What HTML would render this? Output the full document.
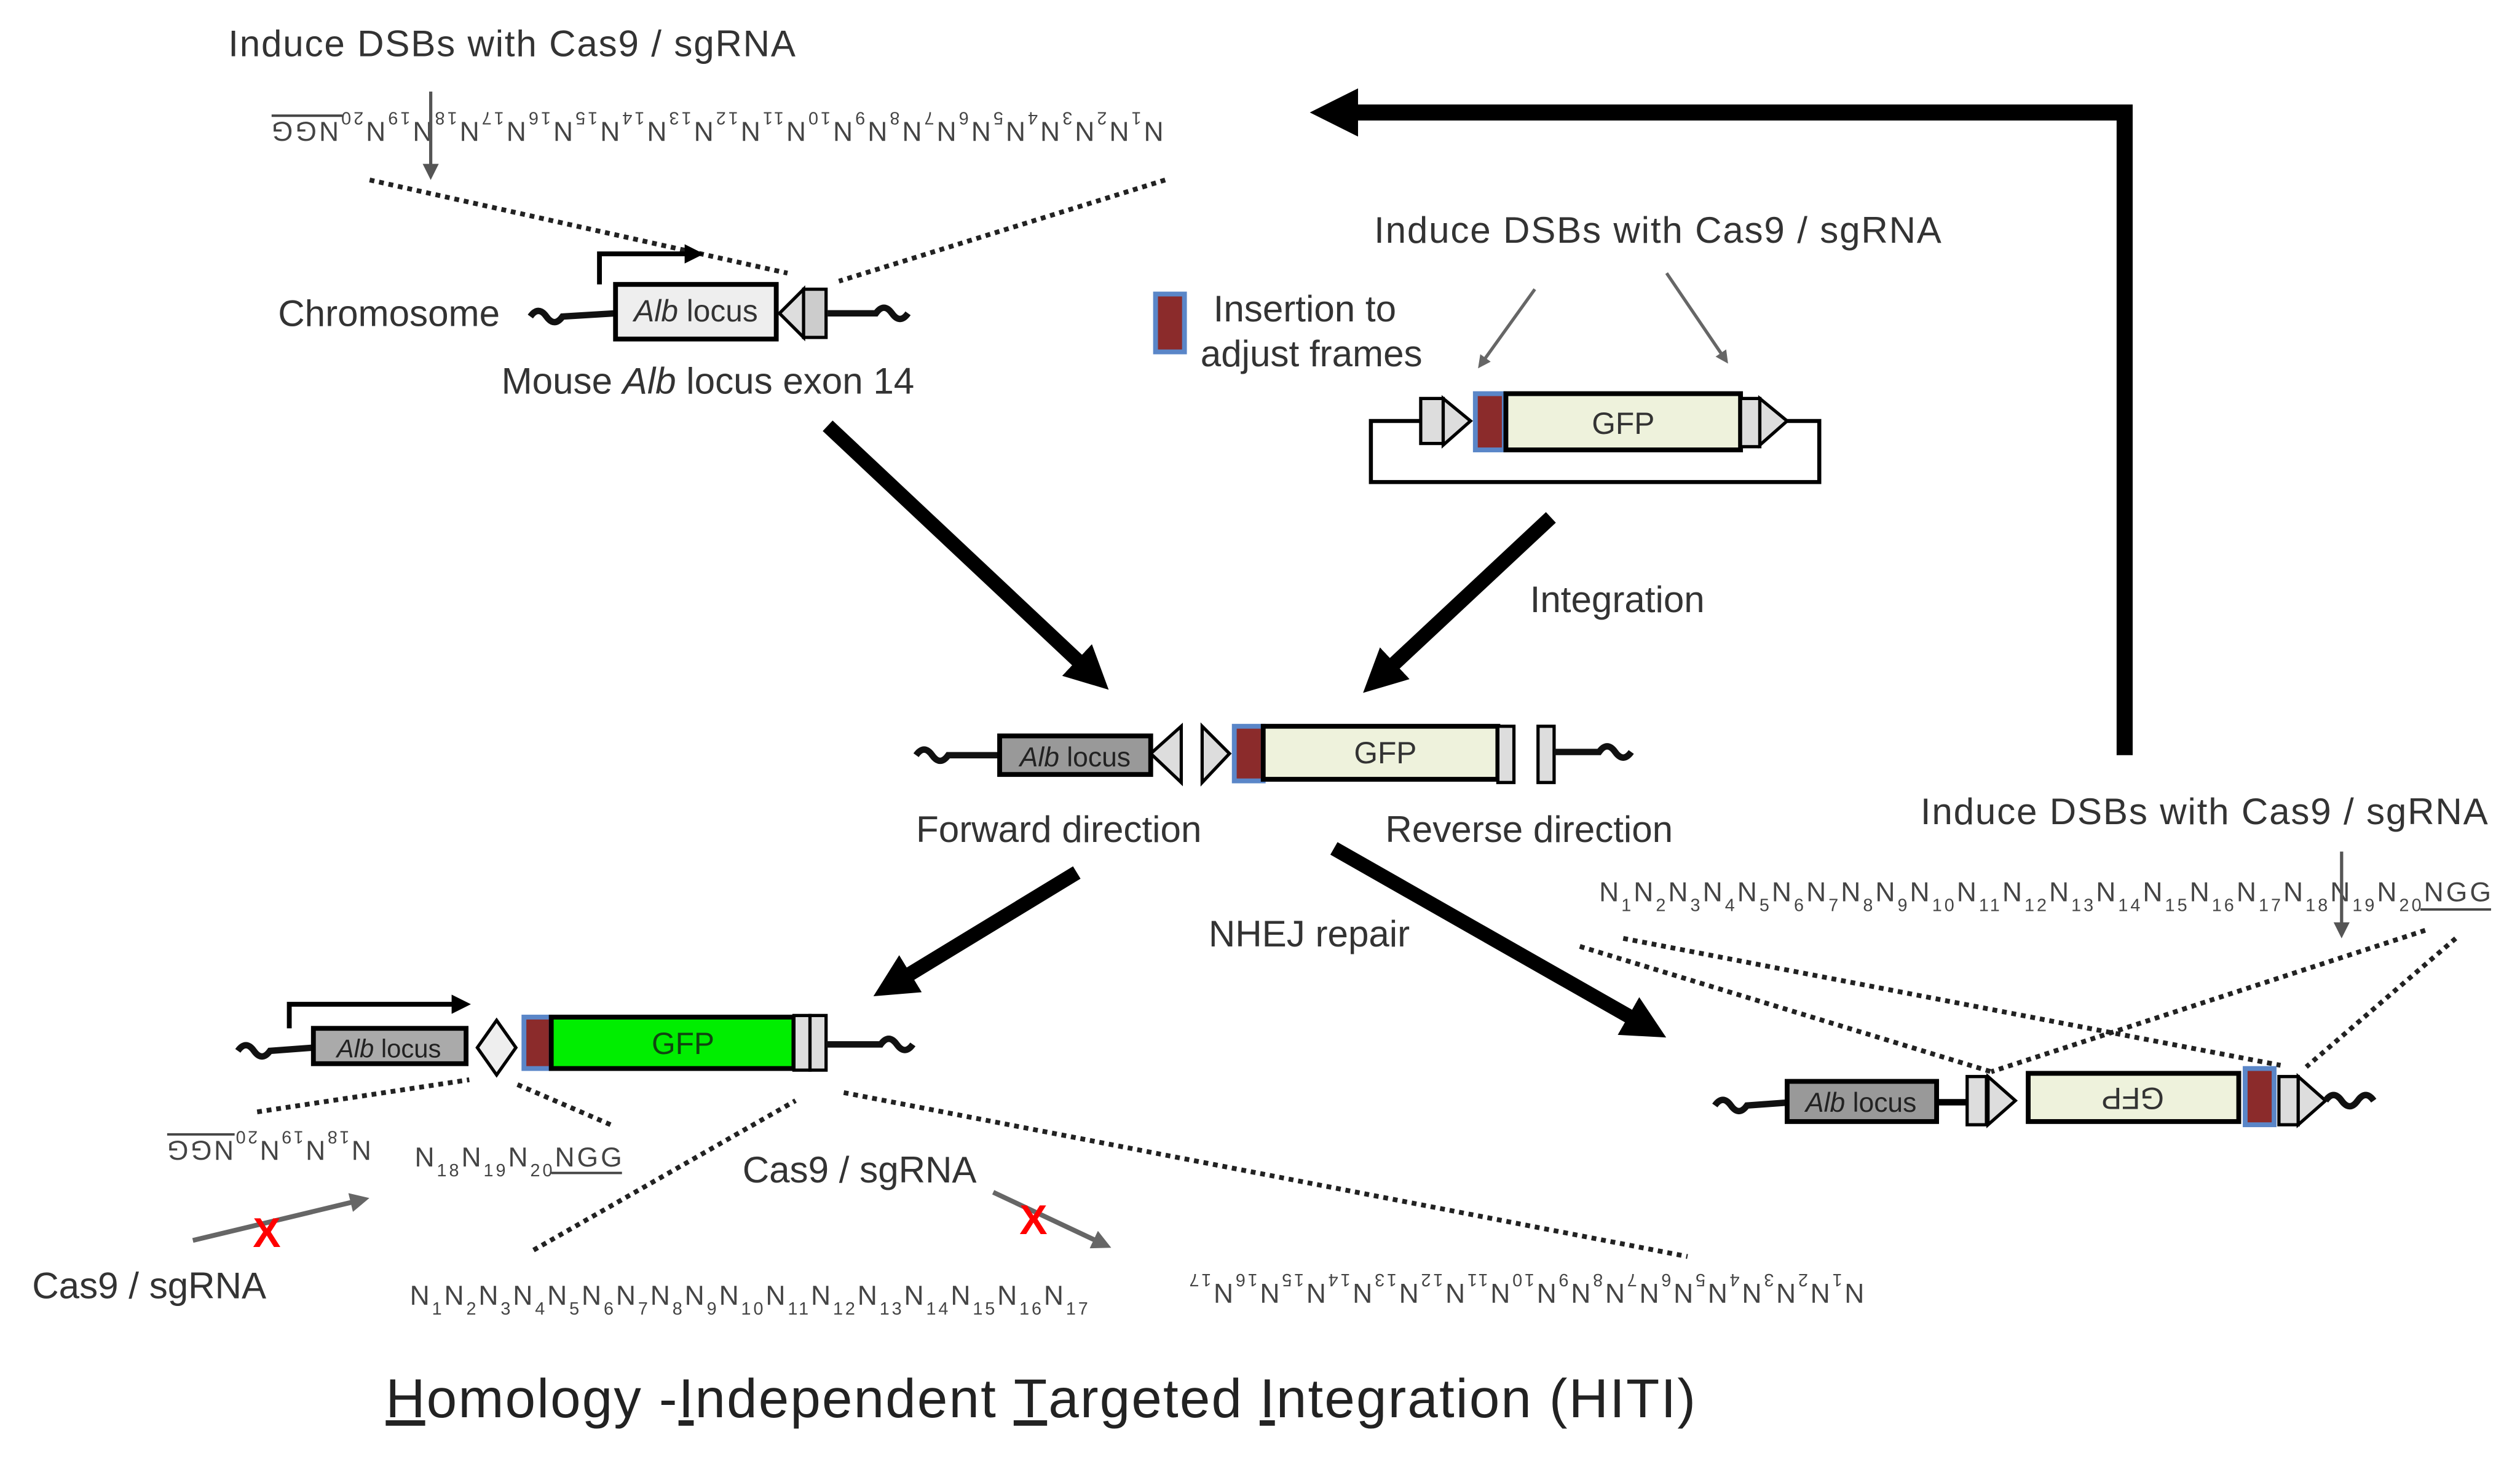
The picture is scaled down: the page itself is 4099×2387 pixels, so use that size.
<!DOCTYPE html>
<html><head><meta charset="utf-8"><style>
html,body{margin:0;padding:0;background:#fff;}
svg{display:block;}
text{font-family:"Liberation Sans",sans-serif;}
.t{font-size:23px;fill:#333;}
.q{font-size:17px;fill:#444;}
.s{font-size:11px;baseline-shift:sub;}
.dot{stroke:#222;stroke-width:3;stroke-dasharray:3 3;fill:none;}
.wv{stroke:#111;stroke-width:4;fill:none;}
</style></head><body>
<svg width="4099" height="2387" viewBox="0 0 1568 913" preserveAspectRatio="none" xmlns="http://www.w3.org/2000/svg">
<defs>
<marker id="ah" markerWidth="3" markerHeight="3" refX="1.5" refY="1.5" orient="auto" markerUnits="strokeWidth"><path d="M0,0 L3,1.5 L0,3 z" fill="#000"/></marker>
<marker id="ah2" markerWidth="4" markerHeight="4" refX="2" refY="2" orient="auto" markerUnits="strokeWidth"><path d="M0,0 L4,2 L0,4 z" fill="#000"/></marker>
<marker id="gh" markerWidth="5" markerHeight="5" refX="3" refY="2.5" orient="auto" markerUnits="strokeWidth"><path d="M0,0 L5,2.5 L0,5 z" fill="#555"/></marker>
<marker id="gh2" markerWidth="4" markerHeight="4" refX="2" refY="2" orient="auto" markerUnits="strokeWidth"><path d="M0,0 L4,2 L0,4 z" fill="#666"/></marker>
</defs>

<!-- Top-left -->
<text class="t" x="142" y="35" textLength="353">Induce DSBs with Cas9 / sgRNA</text>
<g transform="rotate(180 447 80)">
<text class="q" x="170" y="84" textLength="555">N<tspan class="s">1</tspan>N<tspan class="s">2</tspan>N<tspan class="s">3</tspan>N<tspan class="s">4</tspan>N<tspan class="s">5</tspan>N<tspan class="s">6</tspan>N<tspan class="s">7</tspan>N<tspan class="s">8</tspan>N<tspan class="s">9</tspan>N<tspan class="s">10</tspan>N<tspan class="s">11</tspan>N<tspan class="s">12</tspan>N<tspan class="s">13</tspan>N<tspan class="s">14</tspan>N<tspan class="s">15</tspan>N<tspan class="s">16</tspan>N<tspan class="s">17</tspan>N<tspan class="s">18</tspan>N<tspan class="s">19</tspan>N<tspan class="s">20</tspan>NGG</text>
<line x1="681" y1="88" x2="725" y2="88" stroke="#444" stroke-width="1.5"/>
</g>
<line x1="268" y1="57" x2="268" y2="108" stroke="#555" stroke-width="2" marker-end="url(#gh)"/>
<line class="dot" x1="230" y1="112" x2="490" y2="170"/>
<line class="dot" x1="725" y1="112" x2="522" y2="175"/>

<text class="t" x="173" y="203">Chromosome</text>
<path class="wv" d="M330,197 q5,-7 10,0 t10,0 L383,195"/>
<path class="wv" d="M515,195 L545,195 q5,-7 10,0 t10,0"/>
<rect x="383" y="177" width="100" height="34" fill="#eee" stroke="#000" stroke-width="3"/>
<text x="433" y="200" font-size="19" text-anchor="middle" fill="#333"><tspan font-style="italic">Alb</tspan> locus</text>
<path d="M500,180 L485,195 L500,210 z" fill="#ddd" stroke="#000" stroke-width="2"/>
<rect x="500" y="180" width="14" height="30" fill="#ccc" stroke="#000" stroke-width="2"/>
<path d="M373,177 L373,158 L432,158" stroke="#000" stroke-width="3" fill="none" marker-end="url(#ah2)"/>
<text class="t" x="312" y="245">Mouse <tspan font-style="italic">Alb</tspan> locus exon 14</text>

<!-- Top-right plasmid -->
<text class="t" x="855" y="151" textLength="353">Induce DSBs with Cas9 / sgRNA</text>
<line x1="955" y1="180" x2="922" y2="226" stroke="#666" stroke-width="2" marker-end="url(#gh2)"/>
<line x1="1037" y1="170" x2="1073" y2="223" stroke="#666" stroke-width="2" marker-end="url(#gh2)"/>
<rect x="719" y="183" width="18" height="36" fill="#8b2b2b" stroke="#5a86c8" stroke-width="3"/>
<text class="t" x="755" y="200">Insertion to</text>
<text class="t" x="747" y="228">adjust frames</text>
<path d="M884,262 L853,262 L853,300 L1132,300 L1132,262 L1112,262" stroke="#000" stroke-width="2.5" fill="none"/>
<rect x="884" y="248" width="14" height="28" fill="#ddd" stroke="#000" stroke-width="2"/>
<path d="M898,248 L915,262 L898,277 z" fill="#ddd" stroke="#000" stroke-width="2"/>
<rect x="918" y="245" width="18" height="35" fill="#8b2b2b" stroke="#5a86c8" stroke-width="3"/>
<rect x="937" y="245" width="146" height="35" fill="#eef2dc" stroke="#000" stroke-width="3"/>
<text x="1010" y="270" font-size="19" text-anchor="middle" fill="#333">GFP</text>
<rect x="1083" y="248" width="12" height="30" fill="#ddd" stroke="#000" stroke-width="2"/>
<path d="M1095,248 L1112,262 L1095,277 z" fill="#ddd" stroke="#000" stroke-width="2"/>

<!-- Big arrows -->
<line x1="515" y1="265" x2="680" y2="420" stroke="#000" stroke-width="9" marker-end="url(#ah)"/>
<line x1="965" y1="322" x2="858" y2="422" stroke="#000" stroke-width="9" marker-end="url(#ah)"/>
<text class="t" x="952" y="381">Integration</text>
<path d="M1322,470 L1322,70 L830,70" stroke="#000" stroke-width="10" fill="none" marker-end="url(#ah)"/>

<!-- Middle construct -->
<path class="wv" d="M570,470 q5,-7 10,0 t10,0 L622,470"/>
<rect x="622" y="458" width="94" height="24" fill="#999" stroke="#000" stroke-width="3"/>
<text x="669" y="477" font-size="17" text-anchor="middle" fill="#222"><tspan font-style="italic">Alb</tspan> locus</text>
<path d="M735,452 L716,469 L735,487 z" fill="#ddd" stroke="#000" stroke-width="2"/>
<path d="M748,452 L765,469 L748,487 z" fill="#ddd" stroke="#000" stroke-width="2"/>
<rect x="768" y="452" width="18" height="34" fill="#8b2b2b" stroke="#5a86c8" stroke-width="3"/>
<rect x="786" y="452" width="146" height="33" fill="#eef2dc" stroke="#000" stroke-width="3"/>
<text x="862" y="475" font-size="19" text-anchor="middle" fill="#333">GFP</text>
<rect x="932" y="452" width="10" height="35" fill="#ddd" stroke="#000" stroke-width="2"/>
<rect x="957" y="452" width="10" height="35" fill="#ddd" stroke="#000" stroke-width="2"/>
<path class="wv" d="M967,468 L995,468 q5,-7 10,0 t10,0"/>
<text class="t" x="570" y="524">Forward direction</text>
<text class="t" x="862" y="524">Reverse direction</text>

<line x1="670" y1="543" x2="555" y2="613" stroke="#000" stroke-width="9" marker-end="url(#ah)"/>
<line x1="830" y1="528" x2="1025" y2="639" stroke="#000" stroke-width="9" marker-end="url(#ah)"/>
<text class="t" x="752" y="589">NHEJ repair</text>

<!-- Bottom-left construct -->
<path class="wv" d="M148,654 q5,-7 10,0 t10,0 L195,652"/>
<rect x="195" y="640" width="95" height="22" fill="#aaa" stroke="#000" stroke-width="3"/>
<text x="242" y="658" font-size="16" text-anchor="middle" fill="#222"><tspan font-style="italic">Alb</tspan> locus</text>
<path d="M309,635 L297,652 L309,669 L321,652 z" fill="#eee" stroke="#000" stroke-width="2"/>
<rect x="326" y="633" width="17" height="32" fill="#8b2b2b" stroke="#5a86c8" stroke-width="3"/>
<rect x="343" y="633" width="151" height="32" fill="#00ee00" stroke="#000" stroke-width="3"/>
<text x="425" y="656" font-size="19" text-anchor="middle" fill="#114411">GFP</text>
<rect x="494" y="632" width="10" height="34" fill="#ddd" stroke="#000" stroke-width="2"/>
<rect x="504" y="632" width="10" height="34" fill="#ddd" stroke="#000" stroke-width="2"/>
<path class="wv" d="M514,650 L548,650 q5,-7 10,0 t10,0"/>
<path d="M180,640 L180,625 L287,625" stroke="#000" stroke-width="3" fill="none" marker-end="url(#ah2)"/>
<line class="dot" x1="160" y1="692" x2="292" y2="672"/>
<line class="dot" x1="322" y1="675" x2="380" y2="700"/>
<line class="dot" x1="332" y1="778" x2="495" y2="685"/>
<line class="dot" x1="525" y1="680" x2="1050" y2="782"/>
<g transform="rotate(180 168 716)">
<text class="q" x="105" y="722" textLength="127">N<tspan class="s">18</tspan>N<tspan class="s">19</tspan>N<tspan class="s">20</tspan>NGG</text>
<line x1="190" y1="726" x2="232" y2="726" stroke="#444" stroke-width="1.5"/>
</g>
<text class="q" x="258" y="726" textLength="129">N<tspan class="s">18</tspan>N<tspan class="s">19</tspan>N<tspan class="s">20</tspan>NGG</text>
<line x1="343" y1="730" x2="387" y2="730" stroke="#444" stroke-width="1.5"/>
<line x1="120" y1="772" x2="224" y2="747" stroke="#666" stroke-width="3" marker-end="url(#gh2)"/>
<text x="166" y="776" font-size="26" fill="#f00" text-anchor="middle" font-weight="bold">X</text>
<text class="t" x="20" y="808">Cas9 / sgRNA</text>
<text class="t" x="462" y="736">Cas9 / sgRNA</text>
<line x1="618" y1="742" x2="686" y2="774" stroke="#666" stroke-width="3" marker-end="url(#gh2)"/>
<text x="643" y="768" font-size="26" fill="#f00" text-anchor="middle" font-weight="bold">X</text>
<text class="q" x="255" y="812" textLength="422">N<tspan class="s">1</tspan>N<tspan class="s">2</tspan>N<tspan class="s">3</tspan>N<tspan class="s">4</tspan>N<tspan class="s">5</tspan>N<tspan class="s">6</tspan>N<tspan class="s">7</tspan>N<tspan class="s">8</tspan>N<tspan class="s">9</tspan>N<tspan class="s">10</tspan>N<tspan class="s">11</tspan>N<tspan class="s">12</tspan>N<tspan class="s">13</tspan>N<tspan class="s">14</tspan>N<tspan class="s">15</tspan>N<tspan class="s">16</tspan>N<tspan class="s">17</tspan></text>
<g transform="rotate(180 950 804)">
<text class="q" x="740" y="809" textLength="420">N<tspan class="s">1</tspan>N<tspan class="s">2</tspan>N<tspan class="s">3</tspan>N<tspan class="s">4</tspan>N<tspan class="s">5</tspan>N<tspan class="s">6</tspan>N<tspan class="s">7</tspan>N<tspan class="s">8</tspan>N<tspan class="s">9</tspan>N<tspan class="s">10</tspan>N<tspan class="s">11</tspan>N<tspan class="s">12</tspan>N<tspan class="s">13</tspan>N<tspan class="s">14</tspan>N<tspan class="s">15</tspan>N<tspan class="s">16</tspan>N<tspan class="s">17</tspan></text>
</g>

<!-- Bottom-right -->
<text class="t" x="1195" y="513" textLength="353">Induce DSBs with Cas9 / sgRNA</text>
<text class="q" x="995" y="561" textLength="555">N<tspan class="s">1</tspan>N<tspan class="s">2</tspan>N<tspan class="s">3</tspan>N<tspan class="s">4</tspan>N<tspan class="s">5</tspan>N<tspan class="s">6</tspan>N<tspan class="s">7</tspan>N<tspan class="s">8</tspan>N<tspan class="s">9</tspan>N<tspan class="s">10</tspan>N<tspan class="s">11</tspan>N<tspan class="s">12</tspan>N<tspan class="s">13</tspan>N<tspan class="s">14</tspan>N<tspan class="s">15</tspan>N<tspan class="s">16</tspan>N<tspan class="s">17</tspan>N<tspan class="s">18</tspan>N<tspan class="s">19</tspan>N<tspan class="s">20</tspan>NGG</text>
<line x1="1506" y1="566" x2="1550" y2="566" stroke="#444" stroke-width="1.5"/>
<line x1="1457" y1="530" x2="1457" y2="580" stroke="#555" stroke-width="2" marker-end="url(#gh)"/>
<line class="dot" x1="983" y1="589" x2="1239" y2="667"/>
<line class="dot" x1="1010" y1="584" x2="1419" y2="663"/>
<line class="dot" x1="1509" y1="579" x2="1239" y2="667"/>
<line class="dot" x1="1528" y1="584" x2="1435" y2="664"/>
<path class="wv" d="M1067,688 q5,-7 10,0 t10,0 L1115,686"/>
<rect x="1112" y="673" width="93" height="25" fill="#999" stroke="#000" stroke-width="3"/>
<text x="1158" y="692" font-size="17" text-anchor="middle" fill="#222"><tspan font-style="italic">Alb</tspan> locus</text>
<line x1="1205" y1="686" x2="1225" y2="686" stroke="#000" stroke-width="4"/>
<rect x="1224" y="670" width="12" height="30" fill="#ddd" stroke="#000" stroke-width="2"/>
<path d="M1237,670 L1254,685 L1237,700 z" fill="#ddd" stroke="#000" stroke-width="2"/>
<rect x="1262" y="668" width="131" height="30" fill="#eef2dc" stroke="#000" stroke-width="3"/>
<text x="1327" y="689" font-size="19" text-anchor="middle" fill="#333" transform="rotate(180 1327 683)">GFP</text>
<rect x="1397" y="665" width="18" height="35" fill="#8b2b2b" stroke="#5a86c8" stroke-width="3"/>
<rect x="1418" y="670" width="12" height="30" fill="#ddd" stroke="#000" stroke-width="2"/>
<path d="M1430,670 L1447,685 L1430,700 z" fill="#ddd" stroke="#000" stroke-width="2"/>
<path class="wv" d="M1447,685 q5,-7 10,0 t10,0 t10,0"/>

<!-- Title -->
<text x="240" y="882" font-size="34" fill="#222" textLength="815"><tspan text-decoration="underline">H</tspan>omology -<tspan text-decoration="underline">I</tspan>ndependent <tspan text-decoration="underline">T</tspan>argeted <tspan text-decoration="underline">I</tspan>ntegration (HITI)</text>
</svg>
</body></html>
